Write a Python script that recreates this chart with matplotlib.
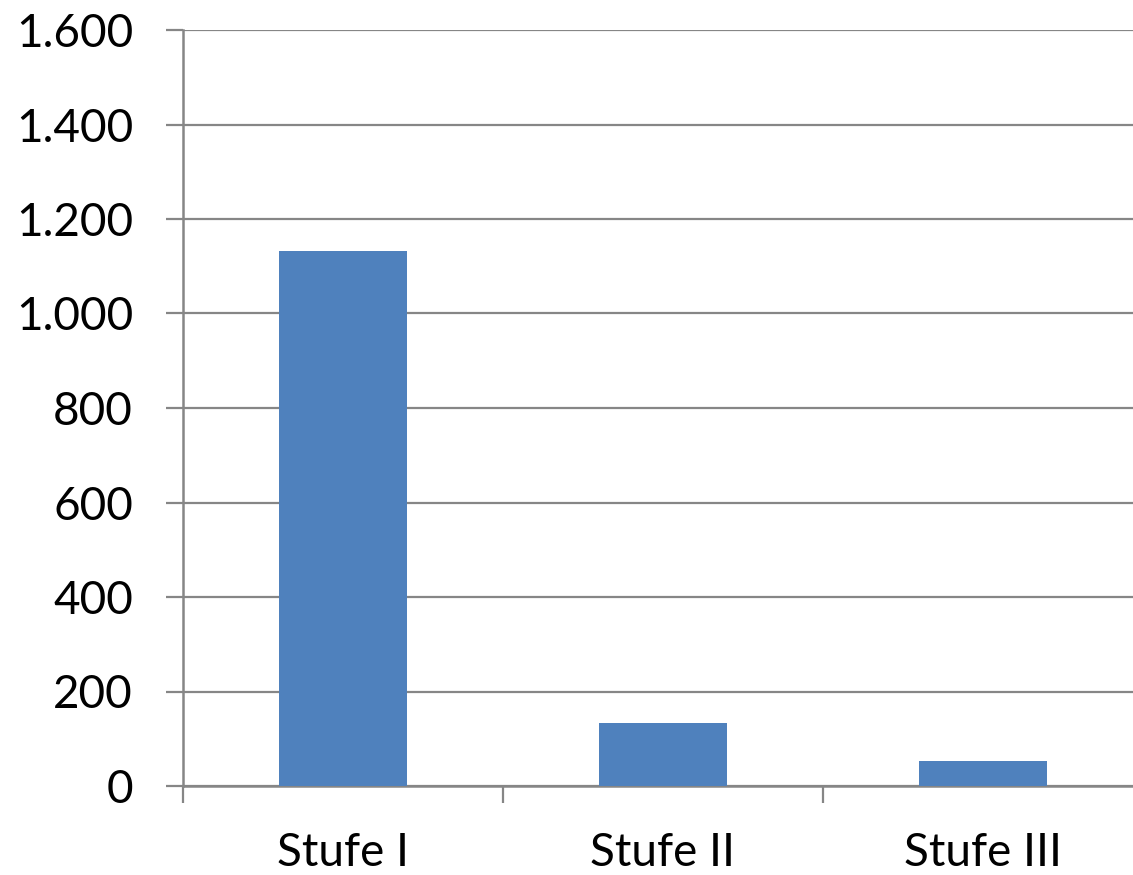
import matplotlib
matplotlib.use('Agg')
import matplotlib.pyplot as plt
from matplotlib.ticker import FuncFormatter, FixedLocator

# Daten
categories = ['Stufe I', 'Stufe II', 'Stufe III']
values = [1133, 133, 53]
y_ticks = [0, 200, 400, 600, 800, 1000, 1200, 1400, 1600]

plt.rcParams['font.family'] = ['Lato', 'DejaVu Sans']

fig = plt.figure(figsize=(11.33, 8.75), dpi=100)
ax = fig.add_axes([183 / 1133, 89 / 875, 960 / 1133, 756 / 875])

grau = '#868686'
x = range(len(categories))
ax.bar(x, values, width=0.4, color='#4F81BD', zorder=3)

ax.set_xlim(-0.5, 2.5)
ax.set_ylim(0, 1600)
ax.set_yticks(y_ticks)
ax.yaxis.set_major_formatter(FuncFormatter(lambda v, p: f'{int(v):,}'.replace(',', '.')))
ax.grid(axis='y', color=grau, linewidth=1.6, zorder=0)

ax.set_xticks(list(x))
ax.set_xticklabels(categories)
ax.xaxis.set_minor_locator(FixedLocator([-0.5, 0.5, 1.5, 2.5]))
ax.tick_params(axis='x', which='major', length=0, pad=33, labelsize=33)
ax.tick_params(axis='x', which='minor', length=12, width=1.6, color=grau)
ax.tick_params(axis='y', length=12, width=1.6, color=grau, pad=24, labelsize=33)

for s in ['top', 'right']:
    ax.spines[s].set_visible(False)
for s in ['left', 'bottom']:
    ax.spines[s].set_color(grau)
    ax.spines[s].set_linewidth(1.8)

fig.savefig('out.png', dpi=100)
